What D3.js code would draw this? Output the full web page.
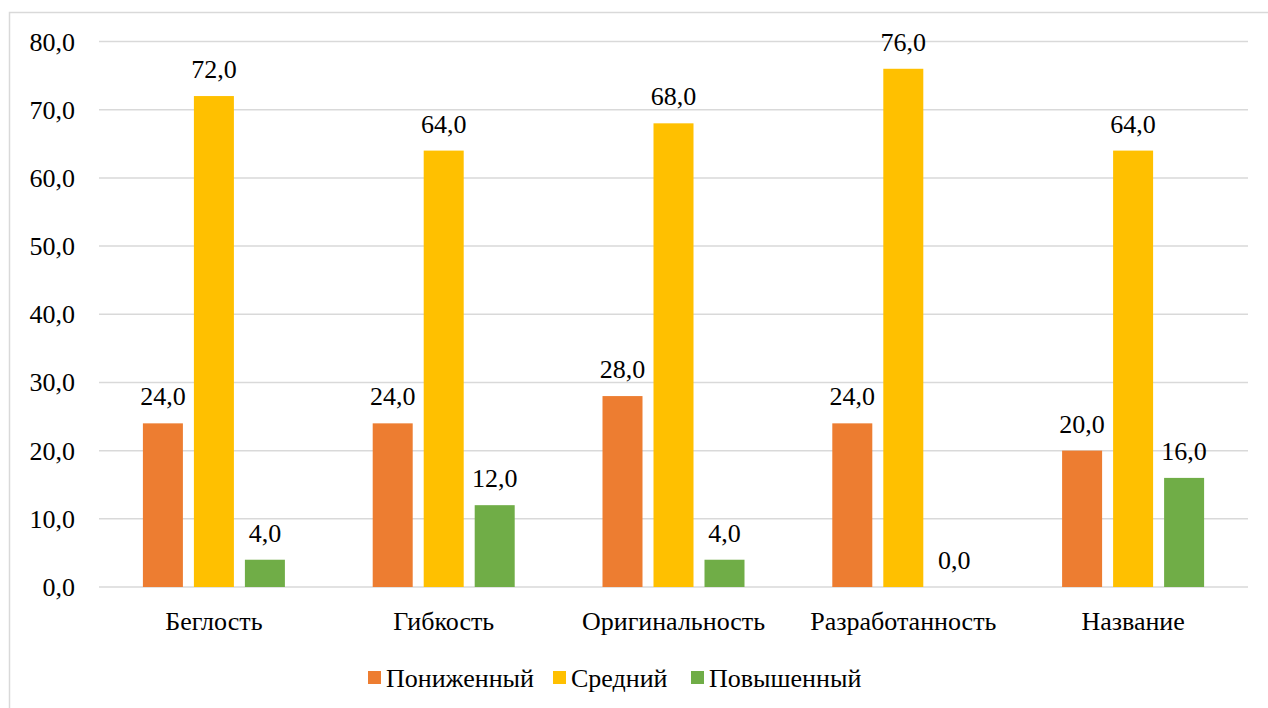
<!DOCTYPE html>
<html>
<head>
<meta charset="utf-8">
<script src="https://cdn.jsdelivr.net/npm/d3@7"></script>
</head>
<body style="margin:0">
<svg id="chart" width="1268" height="708"></svg>
<script>
const categories = ["Беглость", "Гибкость", "Оригинальность", "Разработанность", "Название"];
const seriesNames = ["Пониженный", "Средний", "Повышенный"];
const lowered = [24, 24, 28, 24, 20];
const middle = [72, 64, 68, 76, 64];
const raised = [4, 12, 4, 0, 16];
const yTicks = [0, 10, 20, 30, 40, 50, 60, 70, 80];
const colors = ["#ED7D31", "#FFC000", "#70AD47"];

const seriesValues = [lowered, middle, raised];

const svg = d3.select("#chart");
const W = 1268, H = 708;
const fmt = v => v.toFixed(1).replace(".", ",");

function styleText(sel) {
  return sel
    .style("font-family", "\"Liberation Serif\", \"Times New Roman\", serif")
    .style("font-size", "26px")
    .attr("fill", "#000");
}

// chart frame
svg.append("rect")
  .attr("x", 9.5).attr("y", 12.5)
  .attr("width", W + 20).attr("height", H + 20)
  .attr("fill", "#fff").attr("stroke", "#d9d9d9").attr("stroke-width", 1.5);

const plot = { left: 99, right: 1248, top: 41.5, bottom: 587 };

const x = d3.scaleBand().domain(categories).range([plot.left, plot.right]).paddingInner(0).paddingOuter(0);
const y = d3.scaleLinear().domain([0, 80]).range([plot.bottom, plot.top]);

const barW = 40, barStep = 51;
const half = (barStep * 3 - (barStep - barW)) / 2;
const xs = d3.scaleBand().domain(seriesNames)
  .range([-half, half])
  .paddingInner((barStep - barW) / barStep).paddingOuter(0);

// gridlines
svg.append("g").selectAll("line").data(yTicks).join("line")
  .attr("x1", plot.left).attr("x2", plot.right)
  .attr("y1", d => y(d)).attr("y2", d => y(d))
  .attr("stroke", "#d9d9d9").attr("stroke-width", 1.5);

// y axis labels, placed from the same scale
svg.append("g").selectAll("text").data(yTicks).join("text")
  .call(styleText)
  .attr("x", plot.left - 24)
  .attr("y", d => y(d) + 9)
  .attr("text-anchor", "end")
  .text(fmt);

// bars with value labels
const groups = svg.append("g").selectAll("g").data(categories).join("g")
  .attr("transform", c => `translate(${x(c) + x.bandwidth() / 2},0)`);

groups.each(function (c, ci) {
  const g = d3.select(this);
  seriesNames.forEach((s, si) => {
    const v = seriesValues[si][ci];
    g.append("rect")
      .attr("x", xs(s)).attr("width", xs.bandwidth())
      .attr("y", y(v)).attr("height", y(0) - y(v))
      .attr("fill", colors[si]);
    g.append("text")
      .call(styleText)
      .attr("x", xs(s) + xs.bandwidth() / 2)
      .attr("y", y(v) - 18)
      .attr("text-anchor", "middle")
      .text(fmt(v));
  });
});

// category labels
svg.append("g").selectAll("text").data(categories).join("text")
  .call(styleText)
  .attr("x", c => x(c) + x.bandwidth() / 2)
  .attr("y", 630)
  .attr("text-anchor", "middle")
  .text(c => c);

// legend
const legendX = [368, 553, 691];
const lg = svg.append("g").selectAll("g").data(seriesNames).join("g")
  .attr("transform", (d, i) => `translate(${legendX[i]},0)`);
lg.append("rect").attr("x", 0).attr("y", 671).attr("width", 13).attr("height", 13)
  .attr("fill", (d, i) => colors[i]);
lg.append("text").call(styleText).attr("x", 18).attr("y", 687).text(d => d);
</script>
</body>
</html>
